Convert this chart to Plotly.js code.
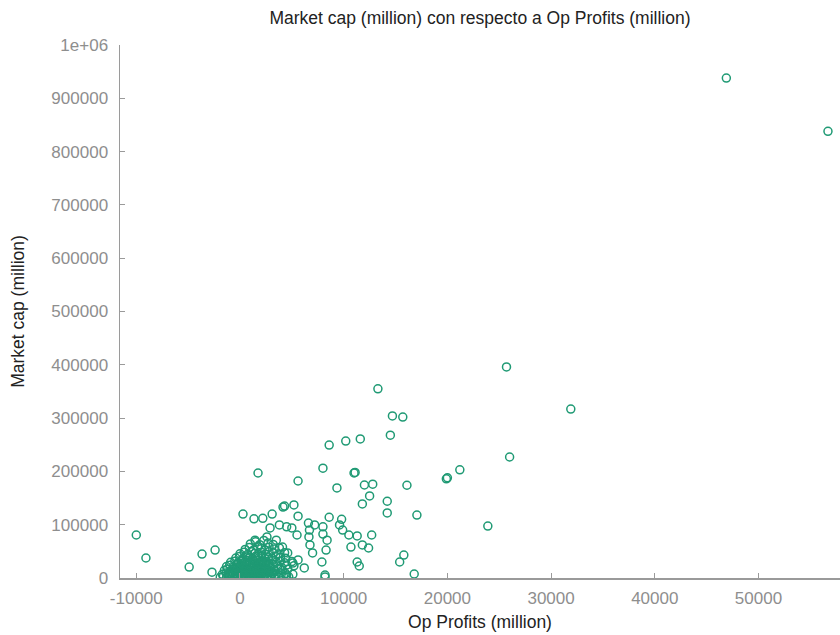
<!DOCTYPE html>
<html>
<head>
<meta charset="utf-8">
<script src="https://cdn.plot.ly/plotly-3.0.1.min.js"></script>
<style>
  html, body { margin: 0; padding: 0; background: #ffffff; }
  #chart { width: 840px; height: 635px; }
</style>
</head>
<body>
<div id="chart"></div>
<script>
// Operating profits (million) per company
const opProfits = [
  // large caps and outliers
  46900, 56700, 25700, 13300, 31900, 14700, 15700, 14500, 26000, 21200, 19900, 20000,
  23900, 17060, 15800, 15400, 16800, 16100, 14200, 14200,
  8600, 10200, 11600, 8000, 11000, 11100, 5600, 9350, 12000, 12800, 12500, 11800,
  5200, 4150, 4300, 5600, 8600, 9800, 1740,
  -10000, -9070, -4900, -3660, -2400, -2700, 290, 1350, 2200, 3100,
  12700, 12400, 11800, 11300, 10500, 9900, 9600, 10700, 11300, 11500, 8200,
  8000, 8000, 8400, 8300, 7900, 7200, 6700, 6600, 6650, 6750, 7000, 6200, 5600,
  5500, 5000, 4500, 3800, 2900, 2600, 3500, 4100, 4600, 5100, 4500, 1450, 8200,
  // main group of companies
  -1900, -1600, -1300, -1000, -750, -500, -200, 50, 300, 600, 850, 1100, 1400, 1700, 1950, 2300, 2600, 2900, 3300, 3700, 4200, 4700,
  -1700, -1350, -1050, -800, -450, -150, 150, 400, 700, 950, 1250, 1550, 1850, 2150, 2450, 2800, 3150, 3500, 3900, 4400, 5100,
  -1500, -1200, -900, -600, -300, 0, 250, 550, 800, 1100, 1350, 1650, 1950, 2250, 2550, 2900, 3250, 3650, 4100, 4600,
  -1300, -1000, -650, -350, -50, 250, 500, 800, 1050, 1350, 1600, 1900, 2200, 2500, 2850, 3200, 3600, 4000, 4500, 5200,
  -900, -500, -200, 150, 450, 750, 1050, 1300, 1600, 1900, 2200, 2500, 2800, 3150, 3500, 3900, 4300, 5000,
  -400, -50, 300, 600, 900, 1200, 1500, 1800, 2100, 2400, 2750, 3100, 3450, 3900, 4400,
  0, 400, 750, 1100, 1450, 1750, 2100, 2450, 2800, 3200, 3700, 4300,
  500, 900, 1300, 1700, 2050, 2400, 2800, 3300, 3800,
  1000, 1500, 1900, 2300, 2700, 3200,
  // smaller firms packed near the origin
  -1100, -700, -350, 100, 450, 750, 1000, 1250, 1550, 1800, 2050, 2350, 2650, 3000,
  -800, -400, -100, 200, 500, 900, 1150, 1450, 1750, 2000, 2300, 2700, 3050, 3400,
  -250, 100, 350, 650, 950, 1250, 1550, 1850, 2150, 2500, 2900,
  200, 550, 950, 1300, 1650, 2000, 2350, 2650
];

// Market capitalisation (million) for the same companies
const marketCap = [
  938000, 838000, 396000, 355000, 317000, 304000, 302000, 268000, 227000, 203000, 186000, 188000,
  97500, 118000, 43000, 30000, 7500, 174000, 144000, 122000,
  249500, 257000, 261000, 206000, 197000, 198000, 182000, 169000, 174500, 176000, 154000, 139000,
  137000, 133000, 135000, 116000, 114000, 110000, 197000,
  80700, 37500, 20600, 45000, 52500, 11000, 120000, 111000, 112000, 120000,
  80700, 56300, 62000, 79000, 80700, 90000, 99500, 58000, 30000, 22500, 5600,
  96000, 82500, 71000, 52500, 30000, 99500, 90000, 103000, 77000, 62000, 47000, 18800, 33800,
  80700, 94000, 96000, 99500, 94000, 77000, 71000, 58000, 47000, 28000, 5600, 71000, 1900,
  1500, 3000, 800, 2500, 4000, 1200, 3500, 600, 2800, 1900, 4200, 700, 3100, 2200, 900, 3600, 1500, 2700, 4100, 1800, 3000, 2200,
  7000, 9500, 6500, 10500, 8000, 6200, 9800, 7500, 10200, 6800, 8800, 11000, 7200, 9400, 6600, 10000, 8200, 7000, 9600, 8400, 6900,
  14500, 16800, 13200, 17500, 15000, 13800, 17200, 14200, 16000, 18000, 13500, 15800, 17000, 14000, 16500, 13600, 15400, 17800, 14800, 16200,
  21500, 24000, 20500, 25500, 22500, 20800, 24800, 23000, 21000, 25800, 22200, 24400, 20600, 23800, 21800, 25200, 22600, 20400, 24200, 22800,
  29500, 31500, 28500, 33500, 30200, 32800, 28800, 31000, 33800, 29200, 32000, 30500, 28200, 33000, 29800, 31800, 28600, 30800,
  37500, 40500, 36500, 41500, 38500, 36200, 40800, 38000, 41800, 37000, 39600, 36800, 40200, 38400, 37200,
  45500, 48500, 44500, 49500, 46500, 44200, 48000, 45200, 49200, 46800, 44800, 47500,
  53500, 57000, 52500, 58500, 55000, 52800, 57800, 54200, 56500,
  64000, 68000, 62500, 70500, 65500, 63000,
  4800, 5600, 4200, 5200, 4500, 5900, 4100, 5400, 4700, 5800, 4300, 5100, 4900, 4400,
  11500, 12200, 11000, 12600, 11800, 11300, 12400, 11600, 12000, 11200, 12700, 11900, 11400, 12300,
  19000, 18500, 19600, 18800, 19300, 18600, 19800, 18900, 19400, 18700, 19100,
  26500, 27200, 26800, 27500, 26300, 27000, 26600, 27300
];

// Axis ticks
const xTickValues = [-10000, 0, 10000, 20000, 30000, 40000, 50000];
const xTickLabels = ["-10000", "0", "10000", "20000", "30000", "40000", "50000"];
const yTickValues = [0, 100000, 200000, 300000, 400000, 500000, 600000, 700000, 800000, 900000, 1000000];
const yTickLabels = ["0", "100000", "200000", "300000", "400000", "500000", "600000", "700000", "800000", "900000", "1e+06"];

const pointColor = "#1f9a74";
const axisGrey = "#9a9a9a";
const labelGrey = "#8e8e8e";

const trace = {
  type: "scatter",
  mode: "markers",
  x: opProfits,
  y: marketCap,
  marker: {
    symbol: "circle-open",
    size: 8,
    color: pointColor,
    line: { color: pointColor, width: 1.5 }
  },
  hoverinfo: "x+y"
};

const layout = {
  width: 840,
  height: 635,
  margin: { l: 120, r: 0, t: 45, b: 57 },
  paper_bgcolor: "#ffffff",
  plot_bgcolor: "#ffffff",
  showlegend: false,
  font: { family: "Liberation Sans, Arial, sans-serif", color: "#222222" },
  title: {
    text: "Market cap (million) con respecto a Op Profits (million)",
    font: { size: 17.5, color: "#222222" },
    x: 0.5714, xanchor: "center",
    y: 0.972, yanchor: "middle"
  },
  xaxis: {
    range: [-11570, 57860],
    showgrid: false,
    zeroline: false,
    showline: true,
    linecolor: axisGrey,
    linewidth: 1.5,
    ticks: "inside",
    ticklen: 5,
    tickwidth: 1,
    tickcolor: axisGrey,
    tickmode: "array",
    tickvals: xTickValues,
    ticktext: xTickLabels,
    tickfont: { size: 17, color: labelGrey },
    ticklabelstandoff: 4,
    title: { text: "Op Profits (million)", font: { size: 17.5, color: "#222222" }, standoff: 9 }
  },
  yaxis: {
    range: [0, 1000000],
    showgrid: false,
    zeroline: false,
    showline: true,
    linecolor: axisGrey,
    linewidth: 1.5,
    ticks: "inside",
    ticklen: 5,
    tickwidth: 1,
    tickcolor: axisGrey,
    tickmode: "array",
    tickvals: yTickValues,
    ticktext: yTickLabels,
    tickfont: { size: 17, color: labelGrey },
    ticklabelstandoff: 7,
    title: { text: "Market cap (million)", font: { size: 17.5, color: "#222222" }, standoff: 22 }
  }
};

Plotly.newPlot("chart", [trace], layout, { displayModeBar: false, staticPlot: true });
</script>
</body>
</html>
